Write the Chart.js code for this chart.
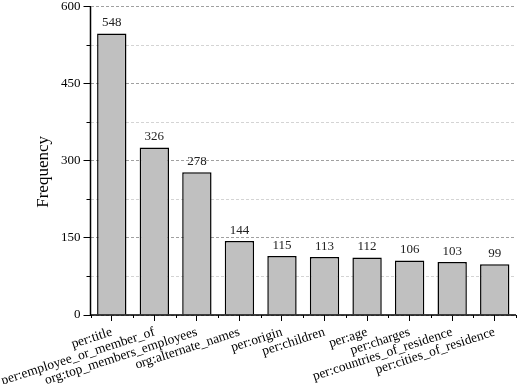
<!DOCTYPE html>
<html>
<head>
<meta charset="utf-8">
<script src="https://cdn.jsdelivr.net/npm/chart.js@4"></script>
<style>
  html, body { margin: 0; padding: 0; background: #fff; overflow: hidden; }
  #wrap { width: 518px; height: 388px; margin-top: -4px; }
</style>
</head>
<body>
<div id="wrap"><canvas id="chart"></canvas></div>
<script>
const categories = [
  'per:title',
  'per:employee_or_member_of',
  'org:top_members_employees',
  'org:alternate_names',
  'per:origin',
  'per:children',
  'per:age',
  'per:charges',
  'per:countries_of_residence',
  'per:cities_of_residence'
];
const frequencies = [548, 326, 278, 144, 115, 113, 112, 106, 103, 99];
const majorYTicks = [0, 150, 300, 450, 600];
const minorYTicks = [75, 225, 375, 525];
const yTitle = 'Frequency';

const serif = 'Liberation Serif, Times New Roman, serif';

// подписи значений, заголовок оси Y, малые засечки и сами оси
const extrasPlugin = {
  id: 'extras',
  afterDatasetsDraw(chart) {
    const ctx = chart.ctx;
    const meta = chart.getDatasetMeta(0);
    ctx.save();
    ctx.fillStyle = '#222';
    ctx.font = '13px ' + serif;
    ctx.textAlign = 'center';
    ctx.textBaseline = 'bottom';
    meta.data.forEach((bar, i) => {
      ctx.fillText(String(frequencies[i]), bar.x, bar.y - 4);
    });
    ctx.restore();
  },
  afterDraw(chart) {
    const ctx = chart.ctx;
    const area = chart.chartArea;
    const x = chart.scales.x;
    const y = chart.scales.y;
    ctx.save();

    // заголовок оси Y (в оригинале чуть ниже центра)
    ctx.fillStyle = '#000';
    ctx.font = '17px ' + serif;
    ctx.textAlign = 'center';
    ctx.textBaseline = 'middle';
    ctx.translate(area.left - 47, (area.top + area.bottom) / 2 + 11);
    ctx.rotate(-Math.PI / 2);
    ctx.fillText(yTitle, 0, 0);
    ctx.setTransform(1, 0, 0, 1, 0, 0);

    ctx.strokeStyle = '#000';
    ctx.lineWidth = 1;
    ctx.beginPath();
    for (let i = 0; i <= categories.length; i++) {
      const px = Math.round(x.getPixelForValue(i - 0.5)) + 0.5;
      ctx.moveTo(px, x.top);
      ctx.lineTo(px, x.top + 3);
    }
    minorYTicks.forEach(v => {
      const py = Math.round(y.getPixelForValue(v)) + 0.5;
      ctx.moveTo(y.right, py);
      ctx.lineTo(y.right - 4, py);
    });
    ctx.stroke();

    ctx.lineWidth = 1.5;
    ctx.beginPath();
    ctx.moveTo(y.right, y.top);
    ctx.lineTo(y.right, y.bottom);
    ctx.lineTo(x.right, y.bottom);
    ctx.stroke();
    ctx.restore();
  }
};

new Chart(document.getElementById('chart'), {
  type: 'bar',
  data: {
    labels: categories,
    datasets: [{
      data: frequencies,
      backgroundColor: '#c0c0c0',
      borderColor: '#000',
      borderWidth: 1.5,
      barPercentage: 0.69,
      categoryPercentage: 1
    }]
  },
  options: {
    responsive: true,
    maintainAspectRatio: false,
    animation: false,
    layout: { padding: { top: 0, right: 2, bottom: -8, left: 58 } },
    plugins: {
      legend: { display: false },
      tooltip: { enabled: false }
    },
    scales: {
      x: {
        offset: true,
        border: { display: false },
        grid: {
          offset: false,
          drawOnChartArea: false,
          drawTicks: true,
          tickLength: 6,
          tickColor: '#000',
          tickWidth: 1
        },
        ticks: {
          autoSkip: false,
          minRotation: 18,
          maxRotation: 18,
          padding: 3,
          color: '#000',
          font: { family: serif, size: 13.5 }
        }
      },
      y: {
        min: 0,
        max: 600,
        afterBuildTicks(scale) {
          scale.ticks = [...majorYTicks, ...minorYTicks]
            .sort((a, b) => a - b)
            .map(v => ({ value: v }));
        },
        border: { display: false, dash: [3, 2] },
        grid: {
          color: ctx => majorYTicks.includes(ctx.tick.value) ? '#a0a0a0' : '#d4d4d4',
          tickLength: 7,
          tickColor: ctx => majorYTicks.includes(ctx.tick.value) ? '#000' : 'transparent',
          tickWidth: 1
        },
        ticks: {
          padding: 3,
          color: '#000',
          font: { family: serif, size: 13 },
          callback: v => majorYTicks.includes(v) ? String(v) : ''
        }
      }
    }
  },
  plugins: [extrasPlugin]
});
</script>
</body>
</html>
